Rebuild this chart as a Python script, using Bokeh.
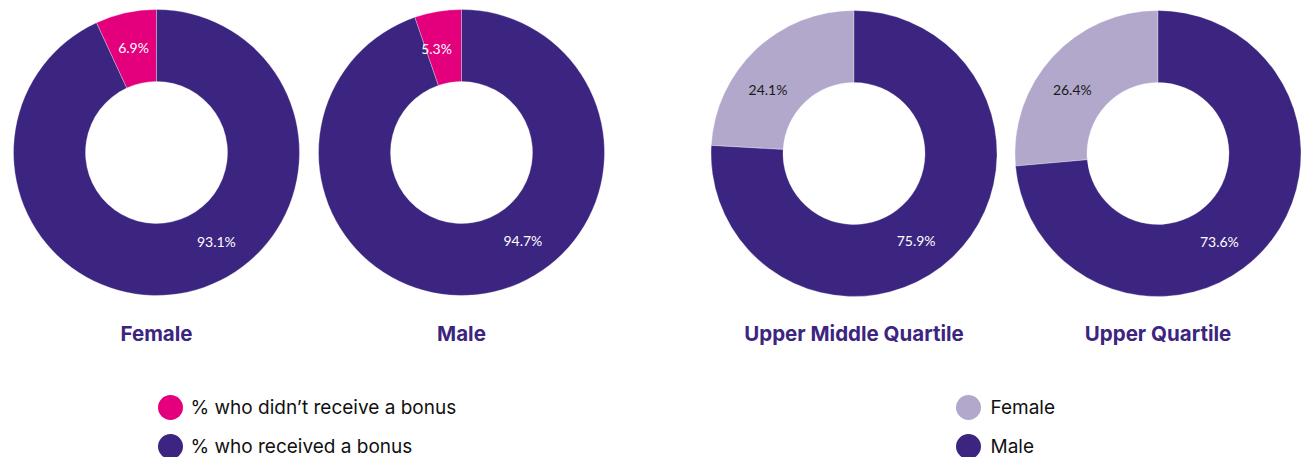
import math
from bokeh.plotting import figure
from bokeh.models import Range1d
from bokeh.core.properties import value
from bokeh.embed import file_html
from bokeh.resources import INLINE

# ---- data ----
donut_titles = ["Female", "Male", "Upper Middle Quartile", "Upper Quartile"]
small_share = [6.9, 5.3, 24.1, 26.4]     # % didn't receive bonus / % female
large_share = [93.1, 94.7, 75.9, 73.6]   # % received bonus / % male
legend_left = ["% who didn\u2019t receive a bonus", "% who received a bonus"]
legend_right = ["Female", "Male"]

# ---- style / layout ----
W, H = 1306, 457
PINK = "#E4007C"
DARK = "#3C2580"
LIGHT = "#B2A8CC"
small_colors = [PINK, PINK, LIGHT, LIGHT]
small_text_colors = ["white", "white", "#1a1a1a", "#1a1a1a"]
centers_x = [156, 461, 853.5, 1157.5]
centers_y = [152, 152, 153, 153]
R_OUT, R_IN = 143, 71
R_LAB = 107
small_label_ang = [102.4, 103.5, 143.5, 143.2]
large_label_ang = [-56, -55, -54.5, -55]
LABEL_FONT = "Lato"
FONT = "Inter"

def Y(py):
    return H - py

p = figure(width=W, height=H, output_backend="svg", toolbar_location=None,
           x_range=Range1d(0, W), y_range=Range1d(0, H), min_border=0)
p.axis.visible = False
p.xgrid.visible = False
p.ygrid.visible = False
p.outline_line_color = None
p.background_fill_color = "white"

for i in range(4):
    cx, cy = centers_x[i], Y(centers_y[i])
    s = small_share[i] / 100.0
    start = math.pi / 2
    end_small = start + s * 2 * math.pi
    p.annular_wedge(x=[cx], y=[cy], inner_radius=R_IN, outer_radius=R_OUT,
                    start_angle=[start], end_angle=[end_small], direction="anticlock",
                    fill_color=small_colors[i], line_color="white", line_width=0.6,
                    line_alpha=0.5)
    p.annular_wedge(x=[cx], y=[cy], inner_radius=R_IN, outer_radius=R_OUT,
                    start_angle=[end_small], end_angle=[start + 2 * math.pi], direction="anticlock",
                    fill_color=DARK, line_color="white", line_width=0.6, line_alpha=0.5)
    a1 = math.radians(small_label_ang[i])
    a2 = math.radians(large_label_ang[i])
    p.text(x=[cx + R_LAB * math.cos(a1)], y=[cy + R_LAB * math.sin(a1)],
           text=[f"{small_share[i]}%"], text_align="center", text_baseline="middle",
           text_font=value(LABEL_FONT), text_font_size="14px", text_color=small_text_colors[i])
    p.text(x=[cx + R_LAB * math.cos(a2)], y=[cy + R_LAB * math.sin(a2)],
           text=[f"{large_share[i]}%"], text_align="center", text_baseline="middle",
           text_font=value(LABEL_FONT), text_font_size="14px", text_color="white")
    p.text(x=[cx], y=[Y(333)], text=[donut_titles[i]], text_align="center",
           text_baseline="middle", text_font=value(FONT), text_font_size="20.5px",
           text_font_style="bold", text_color=DARK)

# legends
leg_y = [407, 446]
for j, (lab, col) in enumerate(zip(legend_left, [PINK, DARK])):
    p.scatter(x=[170], y=[Y(leg_y[j])], size=25, marker="circle", fill_color=col, line_color=None)
    p.text(x=[190], y=[Y(leg_y[j])], text=[lab], text_align="left", text_baseline="middle",
           text_font=value(FONT), text_font_size="19px", text_color="#111111")
for j, (lab, col) in enumerate(zip(legend_right, [LIGHT, DARK])):
    p.scatter(x=[968], y=[Y(leg_y[j])], size=25, marker="circle", fill_color=col, line_color=None)
    p.text(x=[990], y=[Y(leg_y[j])], text=[lab], text_align="left", text_baseline="middle",
           text_font=value(FONT), text_font_size="19px", text_color="#111111")

open("out.html", "w").write(file_html(p, INLINE))
